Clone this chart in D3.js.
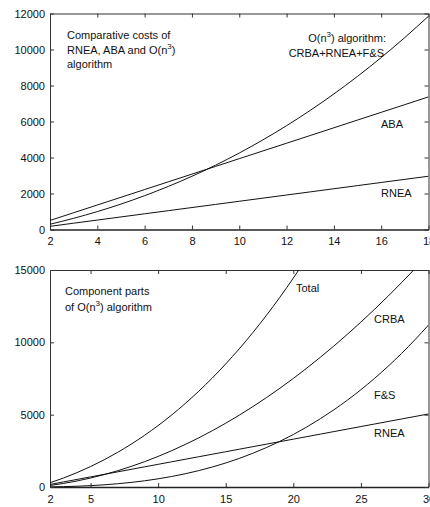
<!DOCTYPE html>
<html>
<head>
<meta charset="utf-8">
<script src="https://cdn.jsdelivr.net/npm/d3@7"></script>
<style>
  body { margin: 0; background: #fff; }
  svg { display: block; font-family: "Liberation Sans", Arial, sans-serif; }
  .tick text { font-size: 11px; fill: #111; }
  .note { font-size: 11px; fill: #111; }
</style>
</head>
<body>
<div id="chart"></div>
<script>
// number of links n
const n_top = [2, 3, 4, 5, 6, 7, 8, 9, 10, 11, 12, 13, 14, 15, 16, 17, 18];
const n_bottom = [2, 3, 4, 5, 6, 7, 8, 9, 10, 11, 12, 13, 14, 15, 16, 17, 18, 19, 20, 21, 22, 23, 24, 25, 26, 27, 28, 29, 30];

// operation counts
const rnea = [176, 350, 524, 698, 872, 1046, 1220, 1394, 1568, 1742, 1916, 2090, 2264, 2438, 2612, 2786, 2960,
              3134, 3308, 3482, 3656, 3830, 4004, 4178, 4352, 4526, 4700, 4874, 5048];
const aba = [503, 932, 1361, 1790, 2219, 2648, 3077, 3506, 3935, 4364, 4793, 5222, 5651, 6080, 6509, 6938, 7367];
const crba = [107, 246, 417, 620, 855, 1122, 1421, 1752, 2115, 2510, 2937, 3396, 3887, 4410, 4965, 5552, 6171,
              6822, 7505, 8220, 8967, 9746, 10557, 11400, 12275, 13182, 14121, 15092, 16095];
const fands = [9, 26, 54, 95, 151, 224, 316, 429, 565, 726, 914, 1131, 1379, 1660, 1976, 2329, 2721,
               3154, 3630, 4151, 4719, 5336, 6004, 6725, 7501, 8334, 9226, 10179, 11195];
const total = [292, 622, 995, 1413, 1878, 2392, 2957, 3575, 4248, 4978, 5767, 6617, 7530, 8508, 9553, 10667, 11852,
               13110, 14443, 15853, 17342];

const top_xticks = [2, 4, 6, 8, 10, 12, 14, 16, 18];
const top_yticks = [0, 2000, 4000, 6000, 8000, 10000, 12000];
const bottom_xticks = [2, 5, 10, 15, 20, 25, 30];
const bottom_yticks = [0, 5000, 10000, 15000];

const width = 430, height = 507;

const svg = d3.select('#chart')
  .append('svg')
    .attr('width', width)
    .attr('height', height);

function makePanel(id, x_domain, y_domain, top, bottom, xticks, yticks) {
  let x_scale = d3.scaleLinear().domain(x_domain).range([50, 428.5]);
  let y_scale = d3.scaleLinear().domain(y_domain).range([bottom, top]);
  let g = svg.append('g').attr('id', id);

  g.append('clipPath').attr('id', id + '-clip')
    .append('rect')
      .attr('x', 50).attr('y', top)
      .attr('width', 378.5).attr('height', bottom - top);

  // inward ticks on all four sides
  g.append('g')
    .attr('transform', 'translate(0,' + bottom + ')')
    .call(d3.axisBottom(x_scale).tickValues(xticks).tickSizeInner(-4).tickSizeOuter(0).tickPadding(8).tickFormat(d3.format('d')))
    .call(a => a.select('.domain').attr('stroke', '#222').attr('stroke-width', 1.6));
  g.append('g')
    .attr('transform', 'translate(0,' + top + ')')
    .call(d3.axisTop(x_scale).tickValues(xticks).tickSizeInner(-4).tickSizeOuter(0).tickFormat(() => ''))
    .call(a => a.select('.domain').attr('stroke', '#333'));
  g.append('g')
    .attr('transform', 'translate(50,0)')
    .call(d3.axisLeft(y_scale).tickValues(yticks).tickSizeInner(-4).tickSizeOuter(0).tickPadding(5).tickFormat(d3.format('d')))
    .call(a => a.select('.domain').attr('stroke', '#333'));
  g.append('g')
    .attr('transform', 'translate(428.5,0)')
    .call(d3.axisRight(y_scale).tickValues(yticks).tickSizeInner(-4).tickSizeOuter(0).tickFormat(() => ''))
    .call(a => a.select('.domain').attr('stroke', '#333'));

  g.selectAll('.tick line').attr('stroke', '#333');

  return { g: g, x: x_scale, y: y_scale, clip: 'url(#' + id + '-clip)' };
}

function drawCurve(panel, xs, ys) {
  let line = d3.line()
    .x((d, i) => panel.x(xs[i]))
    .y(d => panel.y(d))
    .curve(d3.curveMonotoneX);
  panel.g.append('path')
    .datum(ys)
    .attr('clip-path', panel.clip)
    .attr('fill', 'none')
    .attr('stroke', '#111')
    .attr('stroke-width', 1)
    .attr('d', line);
}

// plain text pieces laid side by side (superscripts as their own small text)
function note(panel, x, y, parts, anchor) {
  let g = panel.g.append('g');
  let cx = 0;
  parts.forEach(p => {
    let sup = typeof p !== 'string';
    let t = g.append('text')
      .attr('class', 'note')
      .attr('x', cx)
      .attr('y', sup ? y - 5 : y)
      .style('font-size', sup ? '8px' : null)
      .text(sup ? p.sup : p);
    cx += t.node().getComputedTextLength();
  });
  let shift = anchor === 'end' ? x - cx : x;
  g.attr('transform', 'translate(' + shift + ',0)');
}

// top panel: comparative costs
let p1 = makePanel('top', [2, 18], [0, 12000], 13.5, 229.5, top_xticks, top_yticks);
drawCurve(p1, n_top, rnea.slice(0, n_top.length));
drawCurve(p1, n_top, aba);
drawCurve(p1, n_top, total.slice(0, n_top.length));

note(p1, 67, 39, ['Comparative costs of']);
note(p1, 67, 54, ['RNEA, ABA and O(n', {sup: '3'}, ')']);
note(p1, 67, 68, ['algorithm']);
note(p1, 386, 42, ['O(n', {sup: '3'}, ') algorithm:'], 'end');
note(p1, 384, 57, ['CRBA+RNEA+F&S'], 'end');
note(p1, 381, 128, ['ABA']);
note(p1, 381, 197, ['RNEA']);

// bottom panel: component parts
let p2 = makePanel('bottom', [2, 30], [0, 15000], 270, 487, bottom_xticks, bottom_yticks);
drawCurve(p2, n_bottom, rnea);
drawCurve(p2, n_bottom, crba);
drawCurve(p2, n_bottom, fands);
drawCurve(p2, n_bottom.slice(0, total.length), total);

note(p2, 65, 295, ['Component parts']);
note(p2, 65, 311, ['of O(n', {sup: '3'}, ') algorithm']);
note(p2, 296, 292, ['Total']);
note(p2, 374, 323, ['CRBA']);
note(p2, 374, 399, ['F&S']);
note(p2, 374, 437, ['RNEA']);
</script>
</body>
</html>
